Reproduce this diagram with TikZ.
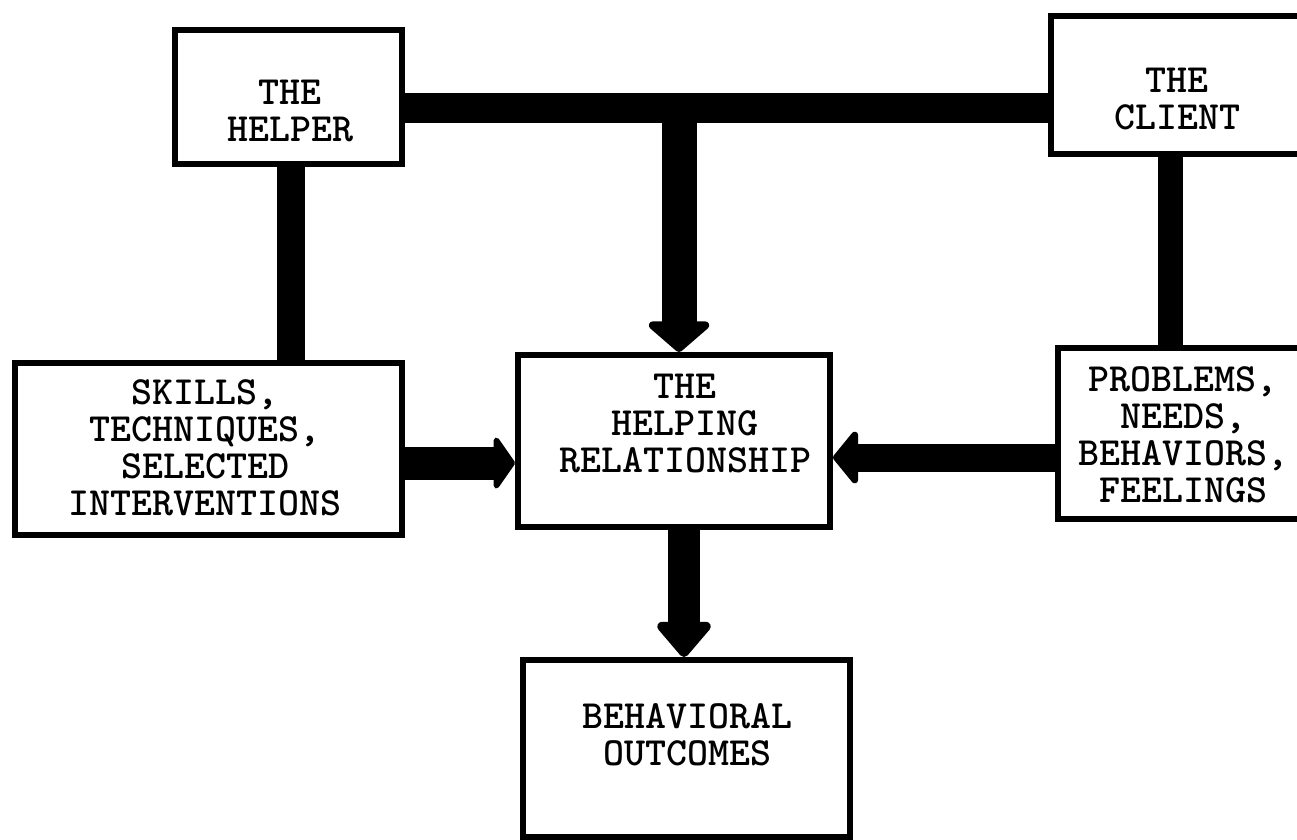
\documentclass[tikz,border=0pt]{standalone}
\usetikzlibrary{arrows.meta}

\begin{document}
\begin{tikzpicture}[x=1pt, y=-1pt,
  box/.style={draw, line width=6pt, rectangle, inner sep=0pt},
  lbl/.style={font=\ttfamily\bfseries\fontsize{40}{37}\selectfont, align=center, inner sep=0pt},
  link/.style={line width=#1}]
  \useasboundingbox (0,0) rectangle (1297,839);
  \clip (0,0) rectangle (1297,839);

  % the boxes
  \node[box, minimum width=227pt, minimum height=134pt] (helper) at (288.5,97) {};
  \node[box, minimum width=256pt, minimum height=138pt] (client) at (1179,85) {};
  \node[box, minimum width=387pt, minimum height=172pt] (skills) at (208.5,449) {};
  \node[box, minimum width=312pt, minimum height=172pt] (helping) at (674,441) {};
  \node[box, minimum width=244pt, minimum height=171pt] (problems) at (1180,433.5) {};
  \node[box, minimum width=327pt, minimum height=177pt] (outcomes) at (686.5,748.5) {};

  % the texts
  \node[lbl] (helpertxt) at (290,111) {THE\\HELPER};
  \node[lbl] (clienttxt) at (1177,99) {THE\\CLIENT};
  \node[lbl] (skillstxt) at (205,448) {SKILLS,\\TECHNIQUES,\\SELECTED\\INTERVENTIONS};
  \node[lbl] (helpingtxt) at (685,423) {THE\\HELPING\\RELATIONSHIP};
  \node[lbl] (problemstxt) at (1183,435) {PROBLEMS,\\NEEDS,\\BEHAVIORS,\\FEELINGS};
  \node[lbl] (outcomestxt) at (687,735) {BEHAVIORAL\\OUTCOMES};

  % the thick links
  \coordinate (junction) at (679,108);
  \draw[link=30pt] ([yshift=-11pt]helper.east) -- ([yshift=-23pt]client.west);
  \draw[link=35pt, -{Triangle[width=72pt, length=32pt, round]}] (junction) -- (junction |- helping.north);
  \draw[link=28pt] ([xshift=2.5pt]helper.south) -- ([xshift=2.5pt]helper.south |- skills.north);
  \draw[link=25pt] ([xshift=-9pt]client.south) -- ([xshift=-9pt]client.south |- problems.north);
  \draw[link=33pt, -{Triangle[width=62pt, length=22pt, round]}] ([yshift=-14pt]skills.east) -- ([yshift=-14pt]skills.east -| helping.west);
  \draw[link=28pt, -{Triangle[width=62pt, length=26pt, round]}] ([yshift=-24pt]problems.west) -- ([yshift=-24pt]problems.west -| helping.east);
  \draw[link=32pt, -{Triangle[width=62pt, length=38pt, round]}] ([xshift=10pt]helping.south) -- ([xshift=10pt]helping.south |- outcomes.north);
\end{tikzpicture}
\end{document}
